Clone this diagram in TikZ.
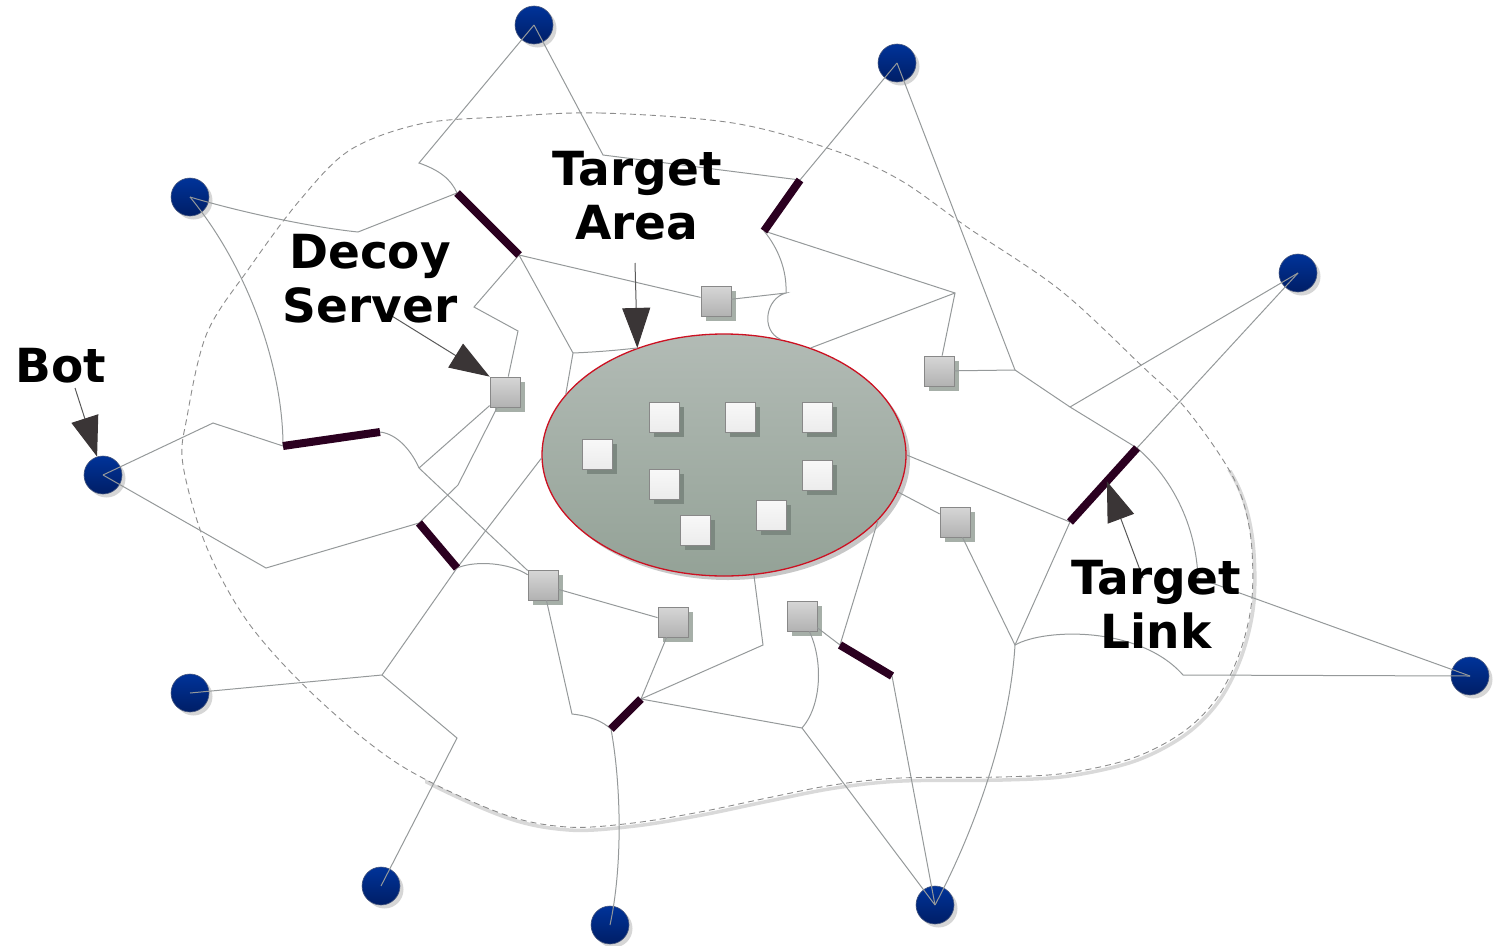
\documentclass[tikz,border=0pt]{standalone}
\usepackage{fontspec}
\setmainfont{DejaVu Sans}
\usetikzlibrary{shapes.geometric,shadows,arrows.meta,calc}

\definecolor{botTop}{HTML}{003399}
\definecolor{botBottom}{HTML}{001E66}
\definecolor{botRim}{HTML}{4A5A80}
\definecolor{wireGray}{HTML}{95999A}
\definecolor{cutInk}{HTML}{2B0020}
\definecolor{calloutInk}{HTML}{3A3536}
\definecolor{areaTop}{HTML}{B2BBB5}
\definecolor{areaBottom}{HTML}{94A297}
\definecolor{areaRim}{HTML}{CC1122}
\definecolor{relayTop}{HTML}{D6D6D6}
\definecolor{relayBottom}{HTML}{B2B2B2}
\definecolor{relayShade}{HTML}{A6AFA8}
\definecolor{hostTop}{HTML}{F8F8F8}
\definecolor{hostBottom}{HTML}{ECECEC}
\definecolor{hostShade}{HTML}{7C8880}
\definecolor{rimGray}{HTML}{888888}
\definecolor{blobGray}{HTML}{8C8C8C}
\definecolor{blobShade}{HTML}{D9D9D9}

\tikzset{
  bot/.style={circle, minimum size=38pt, inner sep=0pt, draw=botRim, line width=0.6pt,
    top color=botTop, bottom color=botBottom,
    drop shadow={shadow xshift=3.5pt, shadow yshift=-3.5pt, fill=black!16, opacity=1}},
  relay/.style={rectangle, minimum size=30pt, inner sep=0pt, draw=rimGray, line width=0.8pt,
    top color=relayTop, bottom color=relayBottom,
    drop shadow={shadow xshift=5pt, shadow yshift=-5pt, fill=relayShade, opacity=1}},
  host/.style={rectangle, minimum size=30pt, inner sep=0pt, draw=rimGray, line width=0.8pt,
    top color=hostTop, bottom color=hostBottom,
    drop shadow={shadow xshift=5pt, shadow yshift=-5pt, fill=hostShade, opacity=1}},
  wire/.style={draw=wireGray, line width=1pt},
  cut/.style={draw=cutInk, line width=8pt, line cap=butt},
  callout/.style={draw=black!65, line width=1pt,
    -{Triangle[length=40pt,width=28pt,fill=calloutInk,color=calloutInk]}},
  lbl/.style={font=\bfseries\fontsize{47}{54}\selectfont, align=center, inner sep=0pt, text=black},
  blob/.style={draw=blobGray, line width=0.9pt, dash pattern=on 6pt off 4pt},
  blobshadow/.style={draw=blobShade, line width=3.5pt}
}

\begin{document}
\begin{tikzpicture}[x=1pt,y=-1pt]
\useasboundingbox (0,0) rectangle (1495,945);

% dashed boundary of the protected region, with its soft shadow
\def\blobpath{plot[smooth cycle, tension=0.55] coordinates {
  (500,117) (600,113) (733,123) (833,150) (900,180) (967,227) (1060,290)
  (1143,367) (1187,410) (1233,477) (1250,532) (1252,598) (1240,652)
  (1217,698) (1183,732) (1133,758) (1067,773) (1000,777) (900,778)
  (833,785) (767,798) (700,812) (633,823) (567,827) (500,813) (400,765)
  (317,698) (250,625) (207,548) (183,465) (187,417) (207,333) (250,267)
  (300,200) (350,150) (420,124)}}
\begin{scope}
  \clip (425,470) rectangle (1495,945);
  \begin{scope}[shift={(2,3)}]
    \path[blobshadow] \blobpath;
  \end{scope}
\end{scope}
\path[blob] \blobpath;

% target area with its hosts
\node[ellipse, minimum width=364pt, minimum height=242pt, inner sep=0pt,
      draw=areaRim, line width=1.3pt, top color=areaTop, bottom color=areaBottom,
      drop shadow={shadow xshift=4pt, shadow yshift=-4pt, fill=black!22, opacity=1}]
      (area) at (724,455) {};
\node[host] (h1) at (597,454) {};
\node[host] (h2) at (664,417) {};
\node[host] (h3) at (740,417) {};
\node[host] (h4) at (817,417) {};
\node[host] (h5) at (664,484) {};
\node[host] (h6) at (817,475) {};
\node[host] (h7) at (771,515) {};
\node[host] (h8) at (695,530) {};

% bots
\node[bot] (b1) at (534,25) {};
\node[bot] (b2) at (897,63) {};
\node[bot] (b3) at (190,197) {};
\node[bot] (b4) at (1298,273) {};
\node[bot] (b5) at (103,475) {};
\node[bot] (b6) at (190,693) {};
\node[bot] (b7) at (1470,676) {};
\node[bot] (b8) at (381,886) {};
\node[bot] (b9) at (610,925) {};
\node[bot] (b10) at (935,905) {};

% servers outside the target area
\node[relay] (s1) at (716,301) {};
\node[relay] (s2) at (939,371) {};
\node[relay] (s3) at (505,392) {};
\node[relay] (s4) at (955,522) {};
\node[relay] (s5) at (543,585) {};
\node[relay] (s6) at (673,622) {};
\node[relay] (s7) at (802,616) {};

% routers (junctions)
\coordinate (j1) at (419,163);
\coordinate (j2) at (603,155);
\coordinate (j3) at (358,232);
\coordinate (j4) at (474,307);
\coordinate (j5) at (518,331);
\coordinate (j6) at (573,353);
\coordinate (j7) at (786,293);
\coordinate (k)  at (955,293);
\coordinate (m1) at (1015,370);
\coordinate (m2) at (1070,407);
\coordinate (j8) at (1198,578);
\coordinate (j9) at (1015,645);
\coordinate (j10) at (1183,675);
\coordinate (j11) at (213,423);
\coordinate (j12) at (419,468);
\coordinate (j13) at (458,485);
\coordinate (j14) at (266,568);
\coordinate (j15) at (382,675);
\coordinate (j16) at (457,738);
\coordinate (j17) at (572,714);
\coordinate (j18) at (763,645);
\coordinate (j19) at (802,728);

% ends of the flooded links
\coordinate (t1a) at (457,193);  \coordinate (t1b) at (519,255);
\coordinate (t2a) at (800,180);  \coordinate (t2b) at (764,231);
\coordinate (t3a) at (283,446);  \coordinate (t3b) at (380,432);
\coordinate (t4a) at (419,523);  \coordinate (t4b) at (457,568);
\coordinate (t5a) at (1137,448); \coordinate (t5b) at (1070,522);
\coordinate (t6a) at (641,699);  \coordinate (t6b) at (611,729);
\coordinate (t7a) at (840,645);  \coordinate (t7b) at (892,676);

% network links
\draw[wire] (b1.center) -- (j1) .. controls +(20,7) and +(-6,-14) .. (t1a);
\draw[wire] (b1.center) -- (j2) -- (t2a);
\draw[wire] (b2.center) -- (t2a);
\draw[wire] (b2.center) -- (m1) -- (m2) -- (t5a);
\draw[wire] (m1) -- (s2);
\draw[wire] (m2) -- (b4.center);
\draw[wire] (b4.center) -- (t5a);
\draw[wire] (t5a) .. controls (1172,478) and (1196,525) .. (j8) -- (b7.center);
\draw[wire] (area.0) -- (t5b) -- (j9);
\draw[wire] (s4) -- (j9);
\draw[wire] (j9) .. controls (1045,628) and (1140,626) .. (j10) -- (b7.center);
\draw[wire] (j9) .. controls (1010,730) and (975,830) .. (b10.center);
\draw[wire] (area.-12) -- (s4);
\draw[wire] (s2) -- (k) -- (t2b);
\draw[wire] (k) -- (area.51.5);
\draw[wire] (t2b) .. controls (778,248) and (787,270) .. (j7);
\draw[wire] (s1) -- (j7) .. controls (766,298) and (760,330) .. (area.64);
\draw[wire] (t1b) -- (s1);
\draw[wire] (t1a) -- (j3) .. controls (310,227) and (240,212) .. (b3.center);
\draw[wire] (t1b) -- (j4) -- (j5) -- (s3);
\draw[wire] (t1b) -- (j6) -- (area.159.6);
\draw[wire] (j6) .. controls (597,352) and (620,350) .. (area.129.2);
\draw[wire] (b3.center) .. controls (250,270) and (283,370) .. (t3a);
\draw[wire] (t3a) -- (j11) -- (b5.center);
\draw[wire] (t3b) .. controls (398,434) and (412,452) .. (j12);
\draw[wire] (j12) -- (s3);
\draw[wire] (j12) -- (s5);
\draw[wire] (s3) -- (j13) -- (t4a);
\draw[wire] (t4a) -- (j14) -- (b5.center);
\draw[wire] (t4b) .. controls (476,560) and (510,563) .. (s5);
\draw[wire] (area.181) -- (t4b) -- (j15);
\draw[wire] (j15) -- (b6.center);
\draw[wire] (j15) -- (j16) -- (b8.center);
\draw[wire] (s5) -- (s6);
\draw[wire] (s5) -- (j17) .. controls (590,716) and (602,721) .. (t6b);
\draw[wire] (t6b) .. controls (622,790) and (622,870) .. (b9.center);
\draw[wire] (t6a) -- (s6);
\draw[wire] (t6a) -- (j18) -- (area.-76);
\draw[wire] (t6a) -- (j19);
\draw[wire] (j19) .. controls (822,705) and (823,660) .. (s7);
\draw[wire] (j19) -- (b10.center);
\draw[wire] (s7) -- (t7a) -- (area.-23.5);
\draw[wire] (t7b) -- (b10.center);

% flooded (target) links
\draw[cut] (t1a) -- (t1b);
\draw[cut] (t2a) -- (t2b);
\draw[cut] (t3a) -- (t3b);
\draw[cut] (t4a) -- (t4b);
\draw[cut] (t5a) -- (t5b);
\draw[cut] (t6a) -- (t6b);
\draw[cut] (t7a) -- (t7b);

% callouts
\coordinate (botTail) at (75,388);
\coordinate (decoyTail) at (387,313);
\coordinate (areaTail) at (635,263);
\coordinate (linkTail) at (1143,578);
\coordinate (linkTip) at ($(t5a)!0.45!(t5b)$);
\draw[callout] (botTail) -- (b5);
\draw[callout] (decoyTail) -- (s3.north west);
\draw[callout] (areaTail) -- (area.129.2);
\draw[callout] (linkTail) -- (linkTip);

% labels
\node[lbl] (botLbl) at (61,366) {Bot};
\node[lbl] (decoyLbl) at (370,279) {Decoy\\Server};
\node[lbl] (areaLbl) at (637,196) {Target\\Area};
\node[lbl] (linkLbl) at (1156,604) {Target\\Link};
\end{tikzpicture}
\end{document}
